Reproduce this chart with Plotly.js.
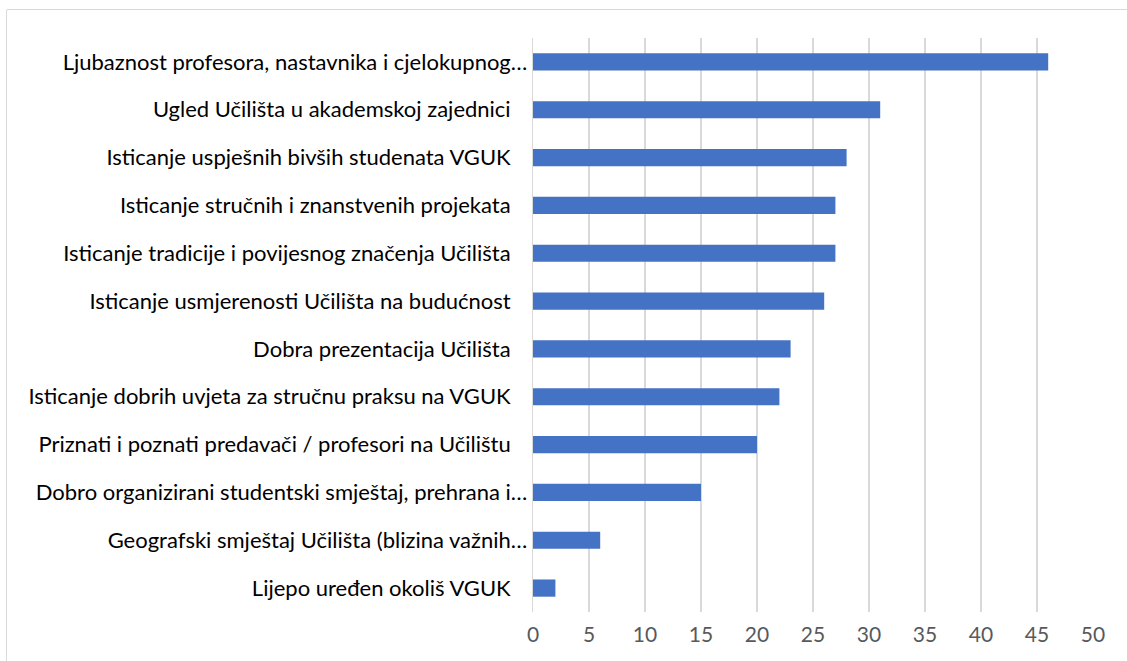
<!DOCTYPE html>
<html>
<head>
<meta charset="utf-8">
<script src="https://cdn.plot.ly/plotly-3.0.1.min.js"></script>
<style>
  html, body { margin: 0; padding: 0; background: #fff; overflow: hidden; }
  #frame { position: absolute; left: 6px; top: 9px; width: 1140px; height: 670px; border: 1px solid #d9d9d9; border-radius: 2px; box-sizing: border-box; }
  #chart { position: absolute; left: 0; top: 0; width: 1127px; height: 661px; }
</style>
</head>
<body>
<div id="frame"></div>
<div id="chart"></div>
<script>
const categories = [
  "Ljubaznost profesora, nastavnika i cjelokupnog…",
  "Ugled Učilišta u akademskoj zajednici ",
  "Isticanje uspješnih bivših studenata VGUK ",
  "Isticanje stručnih i znanstvenih projekata ",
  "Isticanje tradicije i povijesnog značenja Učilišta ",
  "Isticanje usmjerenosti Učilišta na budućnost ",
  "Dobra prezentacija Učilišta ",
  "Isticanje dobrih uvjeta za stručnu praksu na VGUK ",
  "Priznati i poznati predavači / profesori na Učilištu ",
  "Dobro organizirani studentski smještaj, prehrana i…",
  "Geografski smještaj Učilišta (blizina važnih…",
  "Lijepo uređen okoliš VGUK "
];
const values = [46, 31, 28, 27, 27, 26, 23, 22, 20, 15, 6, 2];
const xTicks = [0, 5, 10, 15, 20, 25, 30, 35, 40, 45, 50];

// trailing spaces kept visible in SVG text
const ticktext = categories.map(s => s.replace(/ $/, "\u2002\u00a0"));

const trace = {
  type: "bar",
  orientation: "h",
  x: values,
  y: categories,
  marker: { color: "#4472C4", line: { width: 0 } },
  hoverinfo: "none"
};

const layout = {
  width: 1127,
  height: 661,
  margin: { l: 533, r: 34, t: 38, b: 49 },
  paper_bgcolor: "rgba(0,0,0,0)",
  plot_bgcolor: "rgba(0,0,0,0)",
  bargap: 0.64,
  showlegend: false,
  font: { family: "Lato, 'Open Sans', sans-serif", size: 22, color: "#000" },
  xaxis: {
    range: [0, 50],
    tickmode: "array",
    tickvals: xTicks,
    ticktext: xTicks.map(String),
    showgrid: true,
    gridcolor: "#d9d9d9",
    gridwidth: 1.3,
    zeroline: false,
    showline: false,
    ticks: "outside",
    ticklen: 4,
    tickcolor: "rgba(0,0,0,0)",
    tickfont: { family: "Lato, 'Open Sans', sans-serif", size: 21, color: "#595959" },
    fixedrange: true
  },
  yaxis: {
    type: "category",
    autorange: "reversed",
    tickmode: "array",
    tickvals: categories,
    ticktext: ticktext,
    showgrid: false,
    zeroline: false,
    showline: true,
    linecolor: "#d9d9d9",
    linewidth: 1.3,
    ticks: "",
    tickfont: { family: "Lato, 'Open Sans', sans-serif", size: 22, color: "#000" },
    fixedrange: true
  }
};

Plotly.newPlot("chart", [trace], layout, { staticPlot: true, displayModeBar: false });
</script>
</body>
</html>
